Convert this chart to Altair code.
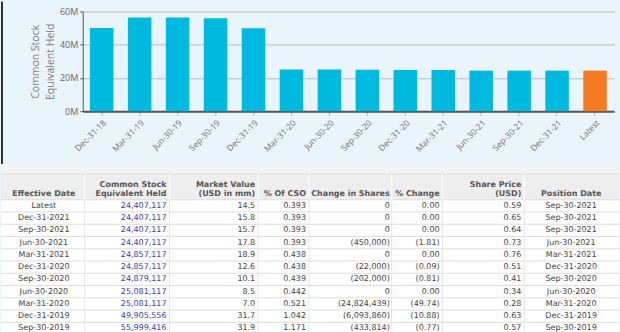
import altair as alt
import pandas as pd

# ---------------- data ----------------
bar_periods = ["Dec-31-18", "Mar-31-19", "Jun-30-19", "Sep-30-19", "Dec-31-19",
               "Mar-31-20", "Jun-30-20", "Sep-30-20", "Dec-31-20", "Mar-31-21",
               "Jun-30-21", "Sep-30-21", "Dec-31-21", "Latest"]
bar_values = [50000000, 56400000, 56433230, 55999416, 49905556,
              25081117, 25081117, 24879117, 24857117, 24857117,
              24407117, 24407117, 24407117, 24407117]
bar_kind = ["history"] * 13 + ["latest"]

eff_dates = ["Latest", "Dec-31-2021", "Sep-30-2021", "Jun-30-2021", "Mar-31-2021",
             "Dec-31-2020", "Sep-30-2020", "Jun-30-2020", "Mar-31-2020",
             "Dec-31-2019", "Sep-30-2019"]
cse_held = [24407117, 24407117, 24407117, 24407117, 24857117, 24857117,
            24879117, 25081117, 25081117, 49905556, 55999416]
market_value = [14.5, 15.8, 15.7, 17.8, 18.9, 12.6, 10.1, 8.5, 7.0, 31.7, 31.9]
pct_cso = [0.393, 0.393, 0.393, 0.393, 0.438, 0.438, 0.439, 0.442, 0.521, 1.042, 1.171]
change_shares = [0, 0, 0, -450000, 0, -22000, -202000, 0, -24824439, -6093860, -433814]
pct_change = [0.00, 0.00, 0.00, -1.81, 0.00, -0.09, -0.81, 0.00, -49.74, -10.88, -0.77]
share_price = [0.59, 0.65, 0.64, 0.73, 0.76, 0.51, 0.41, 0.34, 0.28, 0.63, 0.57]
position_date = ["Sep-30-2021", "Sep-30-2021", "Sep-30-2021", "Jun-30-2021", "Mar-31-2021",
                 "Dec-31-2020", "Sep-30-2020", "Jun-30-2020", "Mar-31-2020",
                 "Dec-31-2019", "Sep-30-2019"]

header_line1 = ["", "Common Stock", "Market Value", "", "", "", "Share Price", ""]
header_line2 = ["Effective Date", "Equivalent Held", "(USD in mm)", "% Of CSO",
                "Change in Shares", "% Change", "(USD)", "Position Date"]


def paren_int(v):
    return "0" if v == 0 else (f"({abs(v):,})" if v < 0 else f"{v:,}")


def paren_dec(v):
    return f"({abs(v):.2f})" if v < 0 else f"{v:.2f}"


# ---------------- layout constants ----------------
PL = 82          # left edge of the bar plot in page pixels
PW = 533         # bar plot width
BLUE_BG = "#eaf4fb"
CHART_FONT = "Open Sans"
TABLE_FONT = "DejaVu Sans"

# ---------------- top bar chart ----------------
bar_df = pd.DataFrame({"period": bar_periods, "held": bar_values, "kind": bar_kind})
one = pd.DataFrame({"k": [0]})

frame = alt.Chart(one).mark_rect(opacity=0).encode(
    x=alt.value(-PL), x2=alt.value(620 - PL), y=alt.value(-10), y2=alt.value(153))
border = alt.Chart(one).mark_rule(color="#333333", strokeWidth=2).encode(
    x=alt.value(-PL + 1), y=alt.value(-10), y2=alt.value(153))

bars = alt.Chart(bar_df).mark_bar().encode(
    x=alt.X("period:N", sort=bar_periods,
            scale=alt.Scale(paddingInner=0.38, paddingOuter=0.19),
            axis=alt.Axis(title=None, labelAngle=-45, labelFontSize=8.5,
                          labelColor="#707070", labelFont=CHART_FONT,
                          tickColor="#aaaaaa", tickSize=4, labelPadding=3,
                          domainColor="#555555", domainWidth=2)),
    y=alt.Y("held:Q", scale=alt.Scale(domain=[0, 60000000], nice=False),
            axis=alt.Axis(values=[0, 20000000, 40000000, 60000000],
                          labelExpr="(datum.value / 1000000) + 'M'",
                          title=["Common Stock", "Equivalent Held"],
                          titleFontSize=10.5, titleFontWeight="normal",
                          titleColor="#808080", titleFont=CHART_FONT,
                          titleLineHeight=15, titlePadding=4,
                          labelFontSize=9, labelColor="#666666", labelFont=CHART_FONT,
                          gridColor="#bbbbbb", domainColor="#555555",
                          tickColor="#555555", tickSize=3, labelPadding=2)),
    color=alt.Color("kind:N", scale=alt.Scale(domain=["history", "latest"],
                                              range=["#00b9de", "#f57b20"]),
                    legend=None),
)

top = alt.layer(frame, border, bars).properties(width=PW, height=100)

# ---------------- table ----------------
n = len(eff_dates)
rows = list(range(n))
tab_df = pd.DataFrame({
    "row": rows,
    "eff": eff_dates,
    "cse": [f"{v:,}" for v in cse_held],
    "mv": [f"{v:.1f}" for v in market_value],
    "cso": [f"{v:.3f}" for v in pct_cso],
    "chg": [paren_int(v) for v in change_shares],
    "pchg": [paren_dec(v) for v in pct_change],
    "price": [f"{v:.2f}" for v in share_price],
    "pos": position_date,
})

# row index -> vertical position (row 0 centred 40px below the table top, 12.3px per row)
yscale = alt.Scale(domain=[-3.252, 10.488], reverse=True, nice=False, zero=False)
Y = lambda f: alt.Y(f, scale=yscale, axis=None)

# column layout in page pixels: (field, x anchor, align)
col_layout = [("eff", 43, "center"), ("cse", 166, "right"), ("mv", 255, "right"),
              ("cso", 306, "right"), ("chg", 390, "right"), ("pchg", 440, "right"),
              ("price", 522, "right"), ("pos", 572, "center")]
sep_x = [84, 169, 258, 309, 392, 443, 525]

white = alt.Chart(pd.DataFrame({"a": [-3.3], "b": [10.6]})).mark_rect(color="#ffffff").encode(
    x=alt.value(-PL), x2=alt.value(620 - PL), y=Y("a:Q"), y2="b:Q")
top_strip = alt.Chart(pd.DataFrame({"a": [-3.3], "b": [-2.6]})).mark_rect(color="#f3f3f3").encode(
    x=alt.value(-PL), x2=alt.value(620 - PL), y=Y("a:Q"), y2="b:Q")
head_bg = alt.Chart(pd.DataFrame({"a": [-2.6], "b": [-0.5]})).mark_rect(color="#eeeeee").encode(
    x=alt.value(-PL), x2=alt.value(620 - PL), y=Y("a:Q"), y2="b:Q")

hlines_df = pd.DataFrame({"r": [-2.6] + [r - 0.5 for r in rows]})
hlines = alt.Chart(hlines_df).mark_rule(color="#dddddd", strokeWidth=1).encode(
    x=alt.value(-PL), x2=alt.value(620 - PL), y=Y("r:Q"))

layers = [white, top_strip, head_bg, hlines]
for sx in sep_x:
    layers.append(alt.Chart(pd.DataFrame({"a": [-2.6], "b": [-0.5]})).mark_rule(
        color="#ffffff", strokeWidth=1).encode(
        x=alt.value(sx - PL), y=Y("a:Q"), y2="b:Q"))
    layers.append(alt.Chart(pd.DataFrame({"a": [-0.5], "b": [10.6]})).mark_rule(
        color="#e6e6e6", strokeWidth=1).encode(
        x=alt.value(sx - PL), y=Y("a:Q"), y2="b:Q"))

head_df = pd.DataFrame({"row1": [-1.7] * len(header_line2), "row2": [-0.98] * len(header_line2),
                        "l1": header_line1, "l2": header_line2})
head_style = dict(baseline="middle", font=TABLE_FONT, fontSize=8, fontWeight="bold", color="#555555")
for i, (field, xpos, align) in enumerate(col_layout):
    hd = head_df.iloc[[i]]
    if header_line1[i]:
        layers.append(alt.Chart(hd).mark_text(align=align, **head_style).encode(
            x=alt.value(xpos - PL), y=Y("row1:Q"), text="l1:N"))
    layers.append(alt.Chart(hd).mark_text(align=align, **head_style).encode(
        x=alt.value(xpos - PL), y=Y("row2:Q"), text="l2:N"))
    layers.append(alt.Chart(tab_df).mark_text(
        align=align, baseline="middle", font=TABLE_FONT, fontSize=8,
        color="#3a3ab2" if field == "cse" else "#444444").encode(
        x=alt.value(xpos - PL), y=Y("row:Q"), text=f"{field}:N"))

table = alt.layer(*layers).properties(width=PW, height=169)

chart = alt.vconcat(top, table, spacing=0).properties(
    padding=0, background=BLUE_BG).configure_view(strokeWidth=0).configure_concat(spacing=0)

chart.save("out.html", embed_options={"renderer": "svg", "actions": False})
